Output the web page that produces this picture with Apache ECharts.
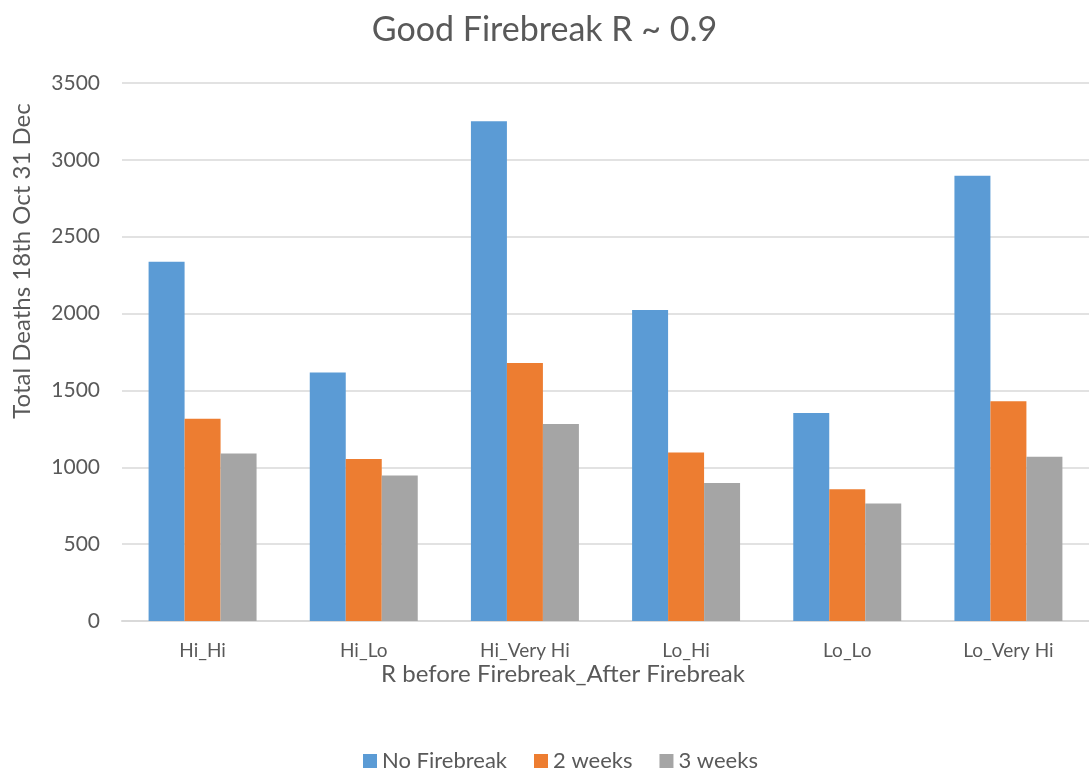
<!DOCTYPE html>
<html>
<head>
<meta charset="utf-8">
<script src="https://cdn.jsdelivr.net/npm/echarts@6/dist/echarts.min.js"></script>
<style>html,body{margin:0;padding:0;background:#fff}#c{width:1089px;height:773px}</style>
</head>
<body>
<div id="c"></div>
<script>
const categories = ['Hi_Hi', 'Hi_Lo', 'Hi_Very Hi', 'Lo_Hi', 'Lo_Lo', 'Lo_Very Hi'];
const noFirebreak = [2337, 1617, 3251, 2023, 1353, 2897];
const twoWeeks = [1315, 1054, 1679, 1096, 857, 1430];
const threeWeeks = [1089, 947, 1281, 897, 765, 1069];
const seriesNames = ['No Firebreak', '2 weeks', '3 weeks'];
const colors = ['#5B9BD5', '#ED7D31', '#A5A5A5'];
const FONT = 'Lato';
const TXT = '#595959';

const chart = echarts.init(document.getElementById('c'), null, {renderer: 'canvas'});
const data = [noFirebreak, twoWeeks, threeWeeks];
chart.setOption({
  animation: false,
  backgroundColor: '#fff',
  textStyle: {fontFamily: FONT},
  title: {
    text: 'Good Firebreak R ~ 0.9',
    left: 'center',
    top: 8,
    textStyle: {fontFamily: FONT, fontSize: 34, fontWeight: 'normal', color: TXT}
  },
  grid: {left: 122, right: 0, top: 83, bottom: 152},
  legend: {
    bottom: -4,
    left: 358,
    icon: 'rect',
    itemWidth: 14,
    itemHeight: 14,
    itemGap: 27,
    textStyle: {fontFamily: FONT, fontSize: 22, color: TXT},
    data: seriesNames
  },
  xAxis: {
    type: 'category',
    data: categories,
    axisLine: {lineStyle: {color: '#D9D9D9', width: 2}},
    axisTick: {show: false},
    axisLabel: {fontFamily: FONT, fontSize: 19, color: TXT, margin: 20}
  },
  yAxis: {
    type: 'value',
    min: 0, max: 3500, interval: 500,
    axisLine: {show: false},
    axisTick: {show: false},
    splitLine: {lineStyle: {color: '#D9D9D9', width: 1.5}},
    axisLabel: {fontFamily: FONT, fontSize: 21, color: TXT, margin: 22, formatter: v => String(v)}
  },
  graphic: [
    {type: 'text', x: 22, y: 261, rotation: Math.PI / 2,
     style: {text: 'Total Deaths 18th Oct 31 Dec', fontFamily: FONT, fontSize: 24, fill: TXT, align: 'center', verticalAlign: 'middle'}},
    {type: 'text', x: 563, y: 674,
     style: {text: 'R before Firebreak_After Firebreak', fontFamily: FONT, fontSize: 24, fill: TXT, align: 'center', verticalAlign: 'middle'}}
  ],
  series: seriesNames.map((n, i) => ({
    name: n,
    type: 'bar',
    data: data[i],
    barGap: '0%',
    barCategoryGap: '33%',
    itemStyle: {color: colors[i]}
  }))
});
</script>
</body>
</html>
